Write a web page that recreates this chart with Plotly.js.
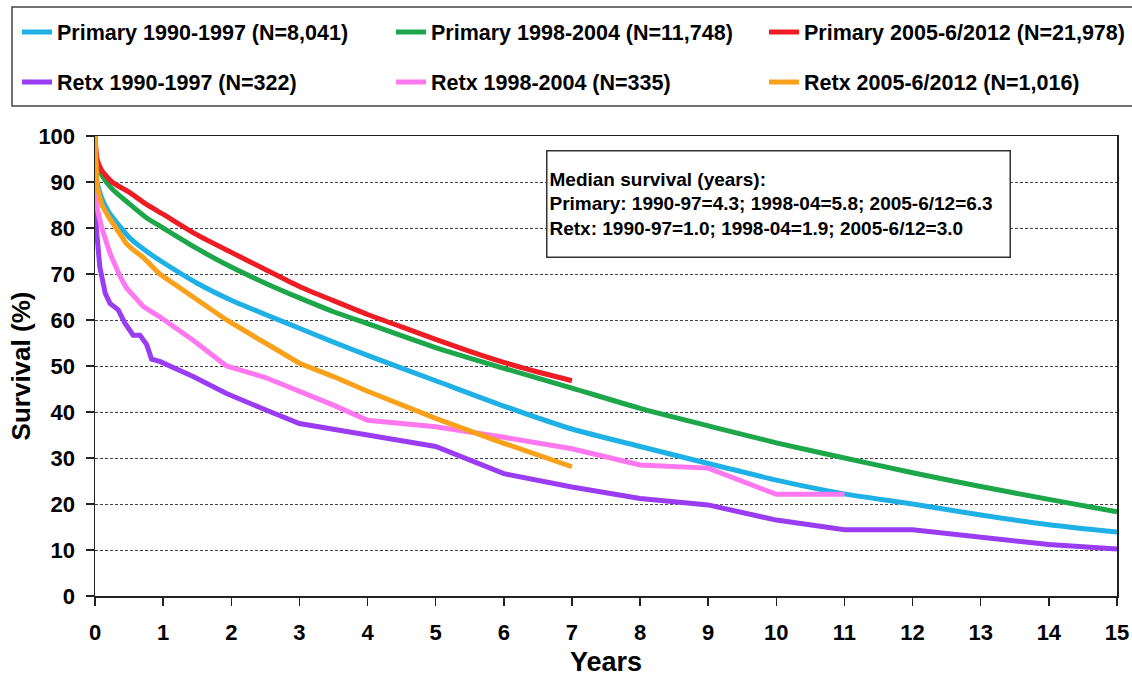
<!DOCTYPE html>
<html>
<head>
<meta charset="utf-8">
<script src="https://cdn.plot.ly/plotly-3.0.1.min.js"></script>
<style>
html,body{margin:0;padding:0;background:#fff;}
#chart{width:1132px;height:677px;}
</style>
</head>
<body>
<div id="chart"></div>
<script>
// ---- Data ----
const seriesNames = [
  "Primary 1990-1997 (N=8,041)",
  "Primary 1998-2004 (N=11,748)",
  "Primary 2005-6/2012 (N=21,978)",
  "Retx 1990-1997 (N=322)",
  "Retx 1998-2004 (N=335)",
  "Retx 2005-6/2012 (N=1,016)"
];

const primary9097_x = [0,0.03,0.1,0.2,0.5,0.75,1,1.5,2,2.5,3,3.5,4,5,6,7,8,9,10,11,12,13,14,15];
const primary9097_y = [100,90,86.5,83.5,78,75,72.5,68,64.3,61.2,58.2,55.2,52.3,46.8,41.3,36.3,32.5,28.8,25.2,22.2,20,17.6,15.5,13.9];

const primary9804_x = [0,0.03,0.1,0.25,0.5,0.75,1,1.5,2,2.5,3,3.5,4,5,6,7,8,9,10,11,12,13,14,15];
const primary9804_y = [100,94,91.5,88.5,85.3,82.3,80,75.5,71.5,68,64.8,61.8,59.2,54,49.5,45.2,40.8,37,33.3,30,26.8,23.8,21,18.3];

const primary0512_x = [0,0.03,0.1,0.25,0.5,0.75,1,1.5,2,2.5,3,3.5,4,4.5,5,5.5,6,6.5,7];
const primary0512_y = [100,95,92.5,90,87.8,85.2,83,78.5,74.7,71,67.3,64.2,61.2,58.5,55.8,53.2,50.8,48.7,46.8];

const retx9097_x = [0,0.02,0.07,0.15,0.22,0.34,0.44,0.56,0.66,0.76,0.83,0.95,1.44,1.93,2.5,3,4,5,6,7,8,9,10,11,12,13,14,15];
const retx9097_y = [100,80,71.6,65.8,63.6,62.2,59.3,56.7,56.7,54.6,51.5,51,47.7,44,40.5,37.5,35,32.5,26.6,23.7,21.2,19.8,16.5,14.4,14.4,12.8,11.2,10.2];

const retx9804_x = [0,0.02,0.1,0.22,0.37,0.46,0.71,0.95,1.44,1.93,2.5,3,3.5,4,5,6,7,8,9,10,11];
const retx9804_y = [100,85,80,74.5,69.4,67,62.9,60.7,55.6,50,47.5,44.5,41.5,38.2,36.8,34.5,32,28.5,27.8,22.1,22.1];

const retx0512_x = [0,0.03,0.1,0.2,0.46,0.54,0.7,0.95,1.44,1.93,2.5,3,3.5,4,5,6,7];
const retx0512_y = [100,89,85,82.4,76.6,75.5,73.7,70,65,60,55,50.6,47.7,44.5,38.6,33.2,28.1];

const xTickVals = [0,1,2,3,4,5,6,7,8,9,10,11,12,13,14,15];
const yTickVals = [0,10,20,30,40,50,60,70,80,90,100];

const medianText = [
  "Median survival (years):",
  "Primary: 1990-97=4.3; 1998-04=5.8; 2005-6/12=6.3",
  "Retx: 1990-97=1.0; 1998-04=1.9; 2005-6/12=3.0"
];

// ---- Styles ----
const colors = ["#1FB0E6", "#1DA64A", "#EE1C24", "#9A3DF2", "#FF78F0", "#F9A11B"];
const FONT = "Liberation Sans, Arial, sans-serif";
const legendIds = ["legend", "legend2", "legend3", "legend4", "legend5", "legend6"];
// legend slot positions in pixels (left of entry, centre of row)
const legendPx = [[17, 32], [391, 32], [764, 32], [17, 82], [391, 82], [764, 82]];

const xs = [primary9097_x, primary9804_x, primary0512_x, retx9097_x, retx9804_x, retx0512_x];
const ys = [primary9097_y, primary9804_y, primary0512_y, retx9097_y, retx9804_y, retx0512_y];

const traces = xs.map((x, i) => ({
  type: "scatter",
  mode: "lines",
  x: x,
  y: ys[i],
  name: seriesNames[i],
  legend: legendIds[i],
  line: {color: colors[i], width: 5, shape: i < 3 ? "spline" : "linear", smoothing: 0.6},
  hoverinfo: "x+y+name"
}));

const layout = {
  width: 1132, height: 677,
  margin: {l: 95, r: 15, t: 136, b: 81, pad: 0},
  paper_bgcolor: "#fff", plot_bgcolor: "#fff",
  font: {family: FONT, color: "#000"},
  showlegend: true,
  xaxis: {
    range: [0, 15], tickvals: xTickVals, ticktext: xTickVals.map(String),
    ticks: "outside", ticklen: 8, tickwidth: 1.5, tickcolor: "#222",
    showline: true, linecolor: "#222", linewidth: 1.5, mirror: true,
    showgrid: false, zeroline: false,
    ticklabelstandoff: 8,
    tickfont: {family: FONT, size: 22, weight: "bold", color: "#000"},
    title: {text: "Years", font: {family: FONT, size: 27, weight: "bold", color: "#000"}, standoff: 17}
  },
  yaxis: {
    range: [0, 100], tickvals: yTickVals, ticktext: yTickVals.map(String),
    ticks: "outside", ticklen: 8, tickwidth: 1.5, tickcolor: "#222",
    showline: true, linecolor: "#222", linewidth: 1.5, mirror: true,
    showgrid: true, gridcolor: "#444", gridwidth: 1, griddash: "3px,2px",
    zeroline: false,
    ticklabelstandoff: 6,
    tickfont: {family: FONT, size: 22, weight: "bold", color: "#000"},
    title: {text: "Survival (%)", font: {family: FONT, size: 26, weight: "bold", color: "#000"}, standoff: 0}
  },
  shapes: [{
    type: "rect", xref: "paper", yref: "paper",
    x0: (12 - 95) / 1022, x1: (1140 - 95) / 1022,
    y0: (596 - 106) / 460, y1: (596 - 7) / 460,
    line: {color: "#444", width: 1.5}, fillcolor: "rgba(0,0,0,0)", layer: "below"
  }],
  annotations: [{
    xref: "paper", yref: "paper",
    x: (546 - 95) / 1022, y: (596 - 150) / 460,
    xanchor: "left", yanchor: "top",
    width: 458, height: 101,
    align: "left", valign: "middle",
    showarrow: false,
    bgcolor: "#fff", bordercolor: "#333", borderwidth: 1.5, borderpad: 2,
    text: medianText.join("<br>"),
    font: {family: FONT, size: 19, weight: "bold", color: "#000"}
  }]
};

legendIds.forEach((id, i) => {
  layout[id] = {
    orientation: "h",
    xref: "container", yref: "container",
    x: legendPx[i][0] / 1132, y: 1 - legendPx[i][1] / 677,
    xanchor: "left", yanchor: "middle",
    font: {family: FONT, size: 21.5, color: "#000", weight: "bold"},
    bgcolor: "rgba(0,0,0,0)",
    borderwidth: 0,
    itemwidth: 30
  };
});

Plotly.newPlot("chart", traces, layout, {displayModeBar: false, staticPlot: true});
</script>
</body>
</html>
